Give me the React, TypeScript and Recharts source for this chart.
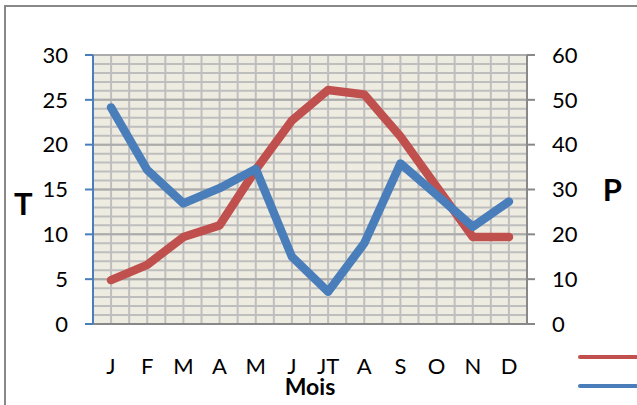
import React from "react";
import { LineChart, Line, XAxis, YAxis, CartesianGrid, Legend } from "recharts";

const months = ["J", "F", "M", "A", "M", "J", "JT", "A", "S", "O", "N", "D"];
const temperature = [4.9, 6.6, 9.7, 11.0, 17.2, 22.7, 26.1, 25.6, 20.9, 15.3, 9.7, 9.7];
const precipitation = [48.3, 34.4, 26.9, 30.3, 34.6, 15.0, 7.2, 18.0, 35.8, 28.8, 21.7, 27.3];
const tTicks = [0, 5, 10, 15, 20, 25, 30];
const pTicks = [0, 10, 20, 30, 40, 50, 60];
const monthEdges = [0, 1, 2, 3, 4, 5, 6, 7, 8, 9, 10, 11, 12];
const seriesOrder = ["T", "P"];

const data = months.map((m, i) => ({ mois: m, T: temperature[i], P: precipitation[i] }));

const FONT = "Lato, 'Open Sans', sans-serif";
const RED = "#C0504D";
const BLUE = "#4A7EBB";
const tickStyle = { fontFamily: FONT, fontSize: 22, fill: "#000" };

// one gridline per temperature unit, one per half month
const minorRows = ({ offset }: any) =>
    Array.from({ length: 31 }, (_, i) => offset.top + (offset.height * i) / 30);
const majorRows = ({ offset }: any) =>
    Array.from({ length: 7 }, (_, i) => offset.top + (offset.height * i) / 6);
const halfMonths = ({ offset }: any) =>
    Array.from({ length: 25 }, (_, i) => offset.left + (offset.width * i) / 24);

const LegendLines = ({ payload }: any) => {
    const items = [...(payload || [])].sort(
        (a: any, b: any) => seriesOrder.indexOf(a.dataKey) - seriesOrder.indexOf(b.dataKey)
    );
    return (
        <svg width={60} height={40}>
            {items.map((e: any, i: number) => (
                <line key={i} x1={2} x2={58} y1={4 + i * 29} y2={4 + i * 29} stroke={e.color} strokeWidth={4} strokeLinecap="round" />
            ))}
        </svg>
    );
};

export default function App() {
    return (
        <div style={{ position: "absolute", left: 0, top: 0, width: 637, height: 405, overflow: "hidden", background: "#fff" }}>
            <div style={{ position: "absolute", left: 4, top: 5, width: 700, height: 500, border: "2px solid #888" }} />
            <div style={{ position: "absolute", left: 0, top: 0 }}>
                <LineChart width={637} height={405} data={data} margin={{ top: 55, right: 0, bottom: 0, left: 0 }}>
                    <CartesianGrid
                        xAxisId="a_edges"
                        fill="#EEECE1"
                        stroke="#BEBEBE"
                        strokeWidth={2}
                        horizontalCoordinatesGenerator={minorRows}
                        verticalCoordinatesGenerator={halfMonths}
                    />
                    <CartesianGrid xAxisId="a_edges" stroke="#ABABAB" strokeWidth={2} vertical={false} horizontalCoordinatesGenerator={majorRows} />
                    {/* tick marks between months, no labels */}
                    <XAxis
                        xAxisId="a_edges"
                        type="number"
                        domain={[0, 12]}
                        ticks={monthEdges}
                        height={10}
                        tick={false}
                        stroke="#888"
                        tickLine={{ stroke: "#888", strokeWidth: 2 }}
                        tickSize={7}
                        axisLine={{ stroke: "#888", strokeWidth: 2 }}
                    />
                    <XAxis
                        xAxisId="b_mois"
                        dataKey="mois"
                        padding={{ left: 18, right: 18 }}
                        height={71}
                        tickLine={false}
                        axisLine={false}
                        interval={0}
                        tick={tickStyle}
                        tickMargin={18}
                        label={{ value: "Mois", position: "insideBottom", offset: 10, style: { fontFamily: FONT, fontSize: 23, fontWeight: 700, fill: "#000" } }}
                    />
                    <YAxis
                        yAxisId="t"
                        domain={[0, 30]}
                        ticks={tTicks}
                        width={93}
                        tick={tickStyle}
                        tickSize={8}
                        tickMargin={17}
                        axisLine={{ stroke: BLUE, strokeWidth: 2 }}
                        tickLine={{ stroke: BLUE, strokeWidth: 2 }}
                        label={{ value: "T", position: "insideLeft", offset: 14, dy: 14, style: { fontFamily: FONT, fontSize: 31, fontWeight: 700, fill: "#000" } }}
                    />
                    <YAxis
                        yAxisId="p"
                        orientation="right"
                        domain={[0, 60]}
                        ticks={pTicks}
                        width={110}
                        tick={tickStyle}
                        tickSize={8}
                        tickMargin={17}
                        axisLine={{ stroke: "#888", strokeWidth: 2 }}
                        tickLine={{ stroke: "#888", strokeWidth: 2 }}
                        label={{ value: "P", position: "insideRight", offset: 15, style: { fontFamily: FONT, fontSize: 31, fontWeight: 700, fill: "#000" } }}
                    />
                    <Legend
                        layout="horizontal"
                        align="center"
                        verticalAlign="middle"
                        content={<LegendLines />}
                        wrapperStyle={{ left: 578, top: 353, width: 60, height: 40 }}
                    />
                    <Line xAxisId="b_mois" yAxisId="t" dataKey="T" stroke={RED} strokeWidth={8.5} strokeLinecap="round" strokeLinejoin="round" dot={false} isAnimationActive={false} />
                    <Line xAxisId="b_mois" yAxisId="p" dataKey="P" stroke={BLUE} strokeWidth={8.5} strokeLinecap="round" strokeLinejoin="round" dot={false} isAnimationActive={false} />
                </LineChart>
            </div>
        </div>
    );
}
